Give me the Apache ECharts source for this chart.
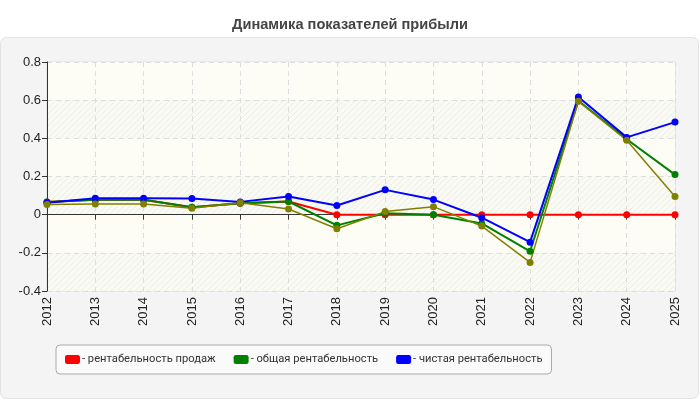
<!DOCTYPE html>
<html>
<head>
  <meta charset="utf-8">
  <title>Динамика показателей прибыли</title>
  <script src="https://cdn.jsdelivr.net/npm/echarts@6/dist/echarts.min.js"></script>
  <style>
    body { margin: 0; padding: 0; background: #fff; }
    #main { width: 700px; height: 400px; }
  </style>
</head>
<body>
  <div id="main"></div>
  <script type="text/javascript">
    var years = ['2012', '2013', '2014', '2015', '2016', '2017', '2018', '2019', '2020', '2021', '2022', '2023', '2024', '2025'];
    var salesProfit = [0.067, 0.078, 0.078, 0.039, 0.06, 0.069, 0, 0, 0, 0, 0, 0, 0, 0];
    var totalProfit = [0.067, 0.078, 0.078, 0.039, 0.06, 0.069, -0.056, 0.007, 0, -0.046, -0.192, 0.597, 0.395, 0.21];
    var netProfit = [0.063, 0.086, 0.086, 0.085, 0.067, 0.095, 0.048, 0.13, 0.079, -0.016, -0.144, 0.617, 0.405, 0.485];
    var extraProfit = [0.053, 0.056, 0.056, 0.033, 0.062, 0.03, -0.074, 0.016, 0.042, -0.06, -0.25, 0.594, 0.39, 0.095];
    var yTicks = ['-0.4', '-0.2', '0', '0.2', '0.4', '0.6', '0.8'];

    // диагональная штриховка для полос фона
    var pc = document.createElement('canvas');
    pc.width = 6; pc.height = 6;
    var ctx = pc.getContext('2d');
    ctx.fillStyle = '#fafaf5';
    ctx.fillRect(0, 0, 6, 6);
    ctx.strokeStyle = '#ececea';
    ctx.lineWidth = 1;
    ctx.beginPath();
    ctx.moveTo(0, 6); ctx.lineTo(6, 0);
    ctx.moveTo(-1, 1); ctx.lineTo(1, -1);
    ctx.moveTo(5, 7); ctx.lineTo(7, 5);
    ctx.stroke();

    function line(name, data, color, width) {
      return {
        name: name,
        type: 'line',
        data: data,
        symbol: 'circle',
        symbolSize: 7,
        showAllSymbol: true,
        itemStyle: { color: color },
        lineStyle: { color: color, width: width },
        emphasis: { disabled: true }
      };
    }

    var chart = echarts.init(document.getElementById('main'));
    chart.setOption({
      animation: false,
      backgroundColor: '#fff',
      title: {
        text: 'Динамика показателей прибыли',
        left: 'center',
        top: 12,
        textStyle: { fontFamily: 'Liberation Sans', fontSize: 14.6, fontWeight: 'bold', color: '#444' }
      },
      graphic: [{
        type: 'rect',
        z: -10,
        shape: { x: 0.5, y: 37.5, width: 698, height: 361, r: 6 },
        style: { fill: '#f4f4f4', stroke: '#e2e2e2', lineWidth: 1 }
      }],
      legend: {
        data: ['- рентабельность продаж', '- общая рентабельность', '- чистая рентабельность'],
        left: 56,
        top: 345,
        padding: [9, 9, 9, 9],
        itemWidth: 15,
        itemHeight: 9,
        itemGap: 18,
        icon: 'roundRect',
        backgroundColor: '#fafafa',
        borderColor: '#aaa',
        borderWidth: 1,
        borderRadius: 4,
        textStyle: { fontFamily: 'Roboto', fontSize: 11.2, color: '#333', padding: [0, 0, 0, -3] }
      },
      grid: { left: 47, right: 25, top: 62, bottom: 109, show: true, borderColor: '#ddd', borderWidth: 1 },
      xAxis: {
        type: 'category',
        data: years,
        boundaryGap: false,
        axisLine: { lineStyle: { color: '#333' } },
        axisTick: { alignWithLabel: true, length: 5, lineStyle: { color: '#333' } },
        axisLabel: { rotate: 90, fontFamily: 'Arial', fontSize: 13, color: '#222', margin: 6 },
        splitLine: { show: true, lineStyle: { color: '#ddd', type: [5, 4] } }
      },
      yAxis: {
        type: 'value',
        min: -0.4,
        max: 0.8,
        interval: 0.2,
        axisLine: { show: true, lineStyle: { color: '#333' } },
        axisTick: { show: true, length: 5, lineStyle: { color: '#333' } },
        axisLabel: {
          fontFamily: 'Arial', fontSize: 13, color: '#222', margin: 6,
          formatter: function (v) {
            var s = (Math.round(v * 10) / 10).toString();
            return yTicks.indexOf(s) >= 0 ? s : '';
          }
        },
        splitLine: { lineStyle: { color: '#ddd', type: [5, 4] } },
        splitArea: {
          show: true,
          areaStyle: { color: [{ image: pc, repeat: 'repeat' }, '#fdfdf6'] }
        }
      },
      series: [
        line('- рентабельность продаж', salesProfit, '#ff0000', 2),
        line('- общая рентабельность', totalProfit, '#008000', 2),
        line('- чистая рентабельность', netProfit, '#0000ff', 2),
        line('- прочее', extraProfit, '#808000', 1.5)
      ]
    });
  </script>
</body>
</html>
